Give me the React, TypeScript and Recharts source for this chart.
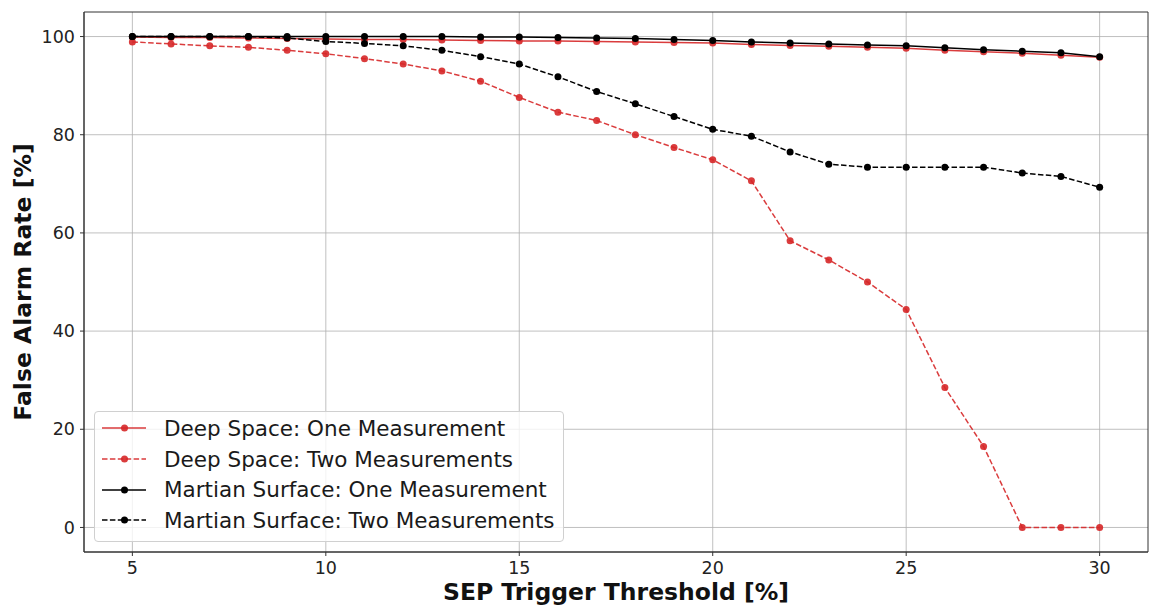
import {
  LineChart,
  Line,
  XAxis,
  YAxis,
  CartesianGrid,
  Legend,
  ReferenceArea,
} from 'recharts';

const thresholds = [5, 6, 7, 8, 9, 10, 11, 12, 13, 14, 15, 16, 17, 18, 19, 20, 21, 22, 23, 24, 25, 26, 27, 28, 29, 30];

const deepOne = [99.9, 99.8, 99.8, 99.7, 99.6, 99.5, 99.4, 99.4, 99.3, 99.2, 99.1, 99.1, 99.0, 98.9, 98.8, 98.7, 98.4, 98.2, 98.0, 97.8, 97.6, 97.2, 96.9, 96.6, 96.2, 95.8];
const deepTwo = [98.9, 98.5, 98.1, 97.8, 97.2, 96.5, 95.5, 94.4, 93.0, 90.9, 87.6, 84.6, 82.9, 80.0, 77.4, 74.9, 70.6, 58.4, 54.5, 50.0, 44.4, 28.5, 16.5, 0, 0, 0];
const marsOne = [100, 100, 100, 100, 100, 100, 100, 100, 100, 99.9, 99.9, 99.8, 99.7, 99.6, 99.4, 99.2, 98.9, 98.7, 98.5, 98.3, 98.1, 97.7, 97.3, 97.0, 96.7, 95.9];
const marsTwo = [100, 100, 100, 100, 99.7, 99.0, 98.6, 98.1, 97.2, 95.9, 94.4, 91.8, 88.8, 86.3, 83.7, 81.1, 79.7, 76.5, 74.0, 73.4, 73.4, 73.4, 73.4, 72.2, 71.5, 69.3];

const xTicks = [5, 10, 15, 20, 25, 30];
const yTicks = [0, 20, 40, 60, 80, 100];

const RED = '#d62728';
const FONT = '"DejaVu Sans", sans-serif';

const series = [
  { key: 'deepOne', name: 'Deep Space: One Measurement', color: RED, dashed: false },
  { key: 'deepTwo', name: 'Deep Space: Two Measurements', color: RED, dashed: true },
  { key: 'marsOne', name: 'Martian Surface: One Measurement', color: '#000000', dashed: false },
  { key: 'marsTwo', name: 'Martian Surface: Two Measurements', color: '#000000', dashed: true },
];

const data = thresholds.map((t, i) => ({
  t,
  deepOne: deepOne[i],
  deepTwo: deepTwo[i],
  marsOne: marsOne[i],
  marsTwo: marsTwo[i],
}));

function LegendBox() {
  return (
    <div
      style={{
        background: 'rgba(255,255,255,0.8)',
        border: '1px solid #d0d0d0',
        borderRadius: 4,
        padding: '1px 8px 5px 7px',
        fontFamily: FONT,
        fontSize: 21.5,
        color: '#1a1a1a',
      }}
    >
      {series.map((s) => (
        <div key={s.key} style={{ display: 'flex', alignItems: 'center', height: 30.7 }}>
          <svg width={44} height={12} style={{ marginRight: 18, flexShrink: 0 }}>
            <line
              x1={0}
              x2={44}
              y1={6}
              y2={6}
              stroke={s.color}
              strokeWidth={1.5}
              strokeDasharray={s.dashed ? '5.5 2.4' : undefined}
              opacity={s.color === RED ? 0.9 : 1}
            />
            <circle cx={22.5} cy={6} r={3.5} fill={s.color} opacity={s.color === RED ? 0.9 : 1} />
          </svg>
          <span style={{ whiteSpace: 'nowrap' }}>{s.name}</span>
        </div>
      ))}
    </div>
  );
}

export default function App() {
  return (
    <div style={{ position: 'absolute', left: 0, top: 0, background: '#fff' }}>
      <LineChart
        width={1149}
        height={606}
        data={data}
        margin={{ top: 12, right: 1, bottom: 0, left: 0 }}
      >
        <CartesianGrid stroke="#b0b0b0" strokeWidth={0.8} horizontalValues={yTicks} verticalValues={xTicks} />
        <XAxis
          dataKey="t"
          type="number"
          domain={[3.75, 31.25]}
          ticks={xTicks}
          allowDataOverflow
          height={54}
          tickSize={4}
          tickMargin={6}
          stroke="#333"
          tick={{ fontSize: 17.5, fill: '#222', fontFamily: FONT }}
          label={(props: any) => {
            const vb = props.viewBox;
            return (
              <text
                x={vb.x + vb.width / 2}
                y={600}
                textAnchor="middle"
                fontFamily={FONT}
                fontWeight="bold"
                fontSize={23.5}
                fill="#111"
              >
                SEP Trigger Threshold [%]
              </text>
            );
          }}
        />
        <YAxis
          type="number"
          domain={[-5, 105]}
          ticks={yTicks}
          allowDataOverflow
          width={84}
          tickSize={4}
          tickMargin={5}
          stroke="#333"
          tick={{ fontSize: 17.5, fill: '#222', fontFamily: FONT }}
          label={(props: any) => {
            const vb = props.viewBox;
            const cx = 23;
            const cy = vb.y + vb.height / 2;
            return (
              <text
                x={cx}
                y={cy}
                transform={`rotate(-90 ${cx} ${cy})`}
                textAnchor="middle"
                dominantBaseline="central"
                fontFamily={FONT}
                fontWeight="bold"
                fontSize={23.5}
                fill="#111"
              >
                False Alarm Rate [%]
              </text>
            );
          }}
        />
        <ReferenceArea x1={3.75} x2={31.25} y1={-5} y2={105} fill="none" stroke="#333" strokeWidth={1} ifOverflow="visible" />
        {series.map((s) => (
          <Line
            key={s.key}
            dataKey={s.key}
            name={s.name}
            type="linear"
            stroke={s.color}
            strokeOpacity={s.color === RED ? 0.9 : 1}
            strokeWidth={1.5}
            strokeDasharray={s.dashed ? '5.5 2.4' : undefined}
            dot={{ r: 3.5, fill: s.color, stroke: 'none', fillOpacity: s.color === RED ? 0.9 : 1 }}
            activeDot={false}
            isAnimationActive={false}
          />
        ))}
        <Legend
          layout="vertical"
          align="center"
          verticalAlign="middle"
          wrapperStyle={{ left: 94, top: 411, width: 'auto' }}
          content={() => <LegendBox />}
        />
      </LineChart>
    </div>
  );
}
